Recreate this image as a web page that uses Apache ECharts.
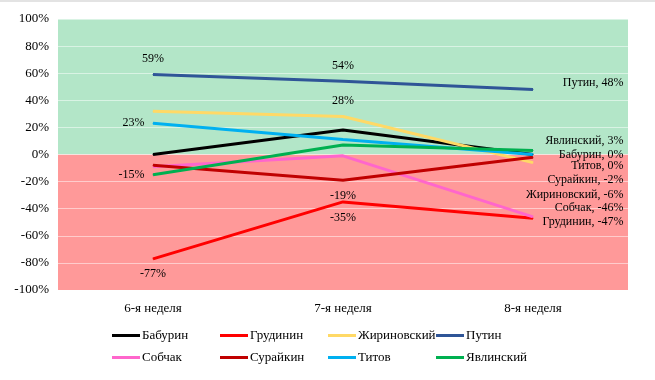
<!DOCTYPE html>
<html><head><meta charset="utf-8">
<script src="https://cdn.jsdelivr.net/npm/echarts@6/dist/echarts.min.js"></script>
<style>html,body{margin:0;padding:0;background:#fff}#c{width:655px;height:380px;box-sizing:border-box;border-top:2px solid #e3e3e3}</style>
</head><body><div id="c"></div>
<script>
var categories = ['6-я неделя', '7-я неделя', '8-я неделя'];
var names = ['Бабурин', 'Грудинин', 'Жириновский', 'Путин', 'Собчак', 'Сурайкин', 'Титов', 'Явлинский'];
var baburin = [0, 18, 0];
var grudinin = [-77, -35, -47];
var zhirinovsky = [32, 28, -6];
var putin = [59, 54, 48];
var sobchak = [-9, -1, -46];
var suraykin = [-8, -19, -2];
var titov = [23, 11, 0];
var yavlinsky = [-15, 7, 3];
var yTicks = [-100, -80, -60, -40, -20, 0, 20, 40, 60, 80, 100];

var seriesValues = [baburin, grudinin, zhirinovsky, putin, sobchak, suraykin, titov, yavlinsky];
var colors = ['#000000', '#ff0000', '#ffd966', '#2f5597', '#ff66cc', '#c00000', '#00b0f0', '#00b050'];
// label placement per series: [week6, week7] placement (null = none), end-label vertical shift (px)
var labelStyle = {
  'Бабурин': [null, null, 0],
  'Грудинин': ['bottom', 'bottom', 4],
  'Жириновский': [null, 'top', 32],
  'Путин': ['top', 'top', -7],
  'Собчак': [null, null, -9],
  'Сурайкин': [null, 'bottom', 23],
  'Титов': ['left', null, 11],
  'Явлинский': ['left', null, -10]
};
var font = '"Liberation Serif", "Times New Roman", serif';

var series = names.map(function (n, i) {
  var st = labelStyle[n];
  var data = seriesValues[i].map(function (v, j) {
    var item = { value: v };
    if (j < 2) {
      if (st[j]) {
        item.label = { show: true, position: st[j], distance: st[j] === 'left' ? 8 : 9,
          formatter: '{c}%', color: '#000', fontFamily: font, fontSize: 12 };
      }
    } else {
      item.label = { show: true, position: 'right', distance: 0, align: 'right',
        offset: [90, st[2]], formatter: n + ', {c}%', color: '#000', fontFamily: font, fontSize: 12 };
    }
    return item;
  });
  var s = {
    name: n, type: 'line', data: data, color: colors[i],
    lineStyle: { width: 3, color: colors[i] },
    symbol: 'circle', symbolSize: 1, showSymbol: true,
    itemStyle: { color: colors[i] },
    label: { show: false },
    emphasis: { disabled: true },
    z: 2,
    animation: false
  };
  if (i === 0) {
    s.markArea = {
      silent: true,
      z: 1,
      data: [
        [{ yAxis: 0, itemStyle: { color: '#b3e6c8' } }, { yAxis: 100 }],
        [{ yAxis: -100, itemStyle: { color: '#ff9999' } }, { yAxis: 0 }]
      ]
    };
  }
  return s;
});

var legends = names.map(function (n, i) {
  var col = i % 4, row = Math.floor(i / 4);
  return {
    data: [n], left: 112 + col * 108, top: 327 + row * 22,
    itemWidth: 28, itemHeight: 3, icon: 'rect', padding: 0,
    textStyle: { color: '#000', fontFamily: font, fontSize: 13, padding: [0, 0, 0, -3] }
  };
});

var chart = echarts.init(document.getElementById('c'), null, { renderer: 'canvas' });
chart.setOption({
  animation: false,
  backgroundColor: '#fff',
  grid: { left: 58, right: 27, top: 17, bottom: 90 },
  xAxis: {
    type: 'category', data: categories, boundaryGap: true,
    axisLine: { show: false }, axisTick: { show: false },
    axisLabel: { color: '#000', fontFamily: font, fontSize: 13, margin: 12 }
  },
  yAxis: {
    type: 'value', min: yTicks[0], max: yTicks[yTicks.length - 1], interval: 20, z: 1.5,
    axisLine: { show: false }, axisTick: { show: false },
    axisLabel: { color: '#000', fontFamily: font, fontSize: 13, margin: 9, formatter: '{value}%' },
    splitLine: { show: true, lineStyle: { color: 'rgba(255,255,255,0.5)', width: 1 } }
  },
  legend: legends,
  series: series
});
</script></body></html>
